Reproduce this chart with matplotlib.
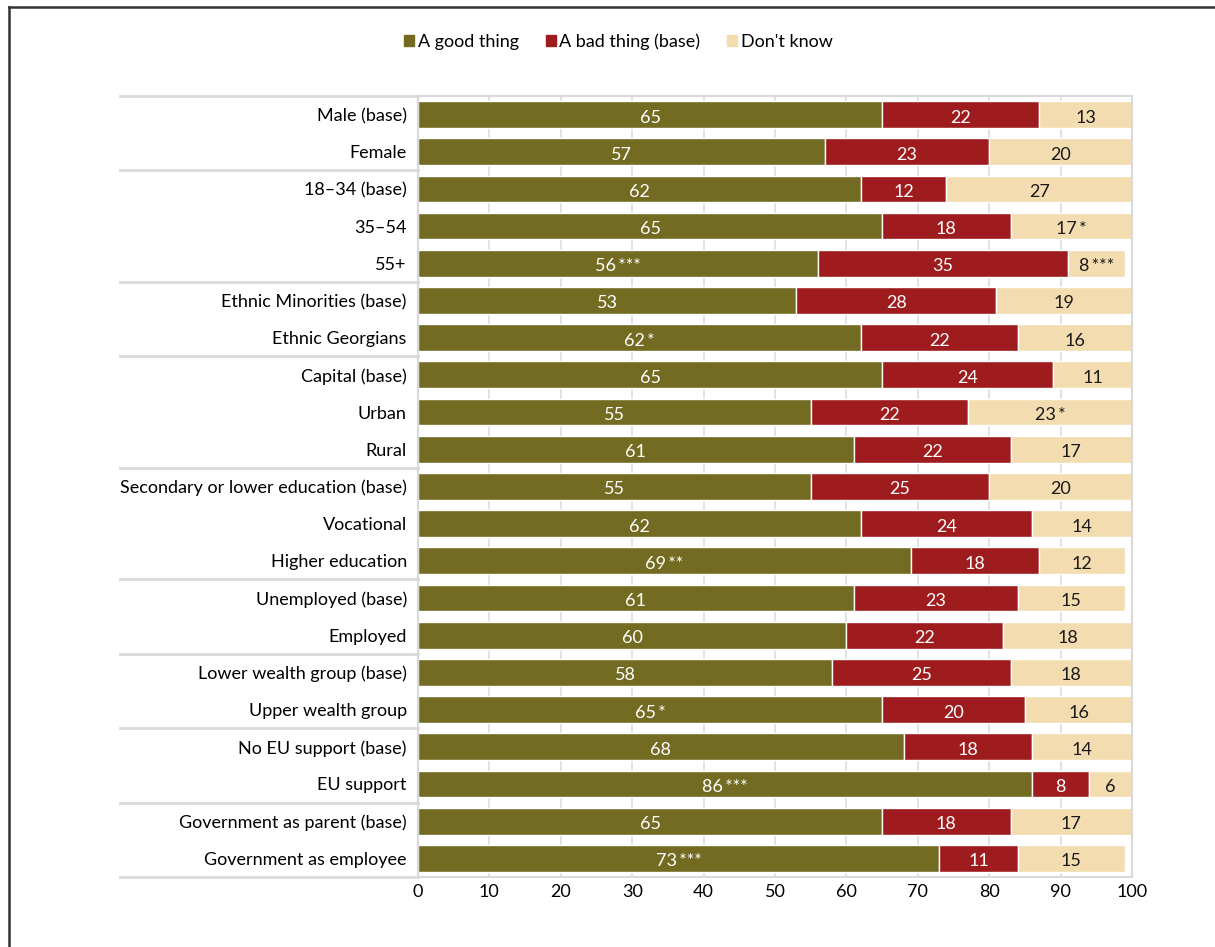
import matplotlib.pyplot as plt
from matplotlib.lines import Line2D
import matplotlib.transforms as mtransforms
import numpy as np

plt.rcParams['font.family'] = ['Lato', 'DejaVu Sans']

categories = ['Male (base)', 'Female',
              '18\u201334 (base)', '35\u201354', '55+',
              'Ethnic Minorities (base)', 'Ethnic Georgians',
              'Capital (base)', 'Urban', 'Rural',
              'Secondary or lower education (base)', 'Vocational', 'Higher education',
              'Unemployed (base)', 'Employed',
              'Lower wealth group (base)', 'Upper wealth group',
              'No EU support (base)', 'EU support',
              'Government as parent (base)', 'Government as employee']

good = [65, 57, 62, 65, 56, 53, 62, 65, 55, 61, 55, 62, 69, 61, 60, 58, 65, 68, 86, 65, 73]
bad = [22, 23, 12, 18, 35, 28, 22, 24, 22, 22, 25, 24, 18, 23, 22, 25, 20, 18, 8, 18, 11]
dont_know = [13, 20, 27, 17, 8, 19, 16, 11, 23, 17, 20, 14, 12, 15, 18, 18, 16, 14, 6, 17, 15]

good_stars = ['', '', '', '', '***', '', '*', '', '', '', '', '', '**', '', '', '', '*', '', '***', '', '***']
bad_stars = [''] * 21
dk_stars = ['', '', '', '*', '***', '', '', '', '*', '', '', '', '', '', '', '', '', '', '', '', '']

# rows after which a group separator is drawn
group_breaks = [1, 4, 6, 9, 12, 14, 16, 18]

series_names = ['A good thing', 'A bad thing (base)', "Don't know"]
colors = ['#736B21', '#9E1B1E', '#F3DCB0']
label_colors = ['white', 'white', '#1a1a1a']

fig = plt.figure(figsize=(12.15, 9.47), dpi=100)
ax = fig.add_axes([0.344, 0.074, 0.5877, 0.8247])

y = np.arange(len(categories))
left = np.zeros(len(categories))
series = [good, bad, dont_know]
stars = [good_stars, bad_stars, dk_stars]
for vals, col, lc, st, name in zip(series, colors, label_colors, stars, series_names):
    vals = np.array(vals, dtype=float)
    ax.barh(y, vals, left=left, height=0.72, color=col, edgecolor='white',
            linewidth=1, label=name, zorder=2)
    for yi, (l, v, s) in enumerate(zip(left, vals, st)):
        cx = min(l + v / 2, (l + 100) / 2)
        txt = f'{int(v)}\u2009{s}' if s else f'{int(v)}'
        ax.text(cx, yi + 0.08, txt, ha='center', va='center',
                color=lc, fontsize=13, zorder=3)
    left = left + vals

ax.set_xlim(0, 100)
ax.set_ylim(len(categories) - 0.5, -0.5)
ax.set_xticks(range(0, 101, 10))
ax.set_yticks(y)
ax.set_yticklabels(categories, fontsize=13)
ax.tick_params(axis='x', labelsize=13, length=0, pad=5)
ax.tick_params(axis='y', length=0, pad=8)
ax.grid(axis='x', color='#dddddd', linewidth=1.2, zorder=0)
for sp in ax.spines.values():
    sp.set_color('#d9d9d9')
    sp.set_linewidth(1.5)

# separators extending into the label area
trans = mtransforms.blended_transform_factory(ax.transAxes, ax.transData)
sep_rows = [-0.5] + [b + 0.5 for b in group_breaks] + [len(categories) - 0.5]
for r in sep_rows:
    ax.add_line(Line2D([-0.417, 0], [r, r], transform=trans, color='#d9d9d9',
                       linewidth=2, clip_on=False))

handles = [plt.Rectangle((0, 0), 1, 1, color=c) for c in colors]
fig.legend(handles, series_names, loc='center', bbox_to_anchor=(0.509, 0.956),
           ncol=3, frameon=False, fontsize=13, handlelength=0.55, handleheight=0.55,
           handletextpad=0.2, columnspacing=1.5)

# page frame (top and left edges)
fig.add_artist(Line2D([0.0078, 1.0], [0.9926, 0.9926], transform=fig.transFigure,
                      color='#333333', linewidth=1.8))
fig.add_artist(Line2D([0.0078, 0.0078], [0.0, 0.9926], transform=fig.transFigure,
                      color='#333333', linewidth=1.8))

fig.savefig('out.png', dpi=100)
